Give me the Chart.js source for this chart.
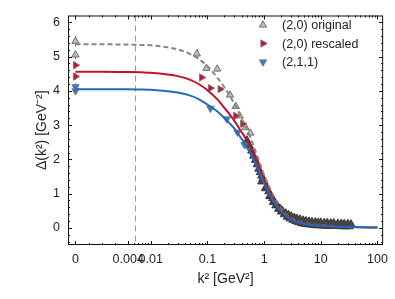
<!DOCTYPE html>
<html>
<head>
<meta charset="utf-8">
<script src="https://cdn.jsdelivr.net/npm/chart.js@4/dist/chart.umd.min.js"></script>
<style>
  html, body { margin: 0; padding: 0; background: #fff; }
  #wrap { width: 395px; height: 299px; }
</style>
</head>
<body>
<div id="wrap"><canvas id="grafik" width="395" height="299"></canvas></div>
<script>
// x axis: linear between 0 and 0.004, log above
const K0 = 0.004, LIN = 0.93;
const xt = k2 => k2 >= K0 ? Math.log10(k2) : Math.log10(K0) - LIN * (1 - k2 / K0);

// tick labels
const xTickVals = [0, 0.004, 0.01, 0.1, 1, 10, 100];
const xTickLabels = ["0", "0.004", "0.01", "0.1", "1", "10", "100"];
const xMinorVals = [0.001, 0.002, 0.003, 0.005, 0.006, 0.007, 0.008, 0.009,
  0.02, 0.03, 0.04, 0.05, 0.06, 0.07, 0.08, 0.09, 0.2, 0.3, 0.4, 0.5, 0.6, 0.7, 0.8, 0.9,
  2, 3, 4, 5, 6, 7, 8, 9, 20, 30, 40, 50, 60, 70, 80, 90];
const yTickVals = [0, 1, 2, 3, 4, 5, 6];
const markerK2 = 0.0053;

// fit curves
const curveK2 = [0, 0.001, 0.002, 0.004, 0.007, 0.01, 0.02, 0.03, 0.05, 0.07, 0.1, 0.15, 0.2, 0.3, 0.4, 0.5, 0.7, 1, 1.5, 2, 3, 5, 10, 20, 50, 100];
const fitBlue = [4.05, 4.05, 4.05, 4.05, 4.04, 4.03, 3.99, 3.95, 3.86, 3.76, 3.6, 3.4, 3.2, 2.9, 2.6, 2.35, 1.9, 1.3, 0.75, 0.48, 0.24, 0.12, 0.06, 0.03, 0.015, 0.01];
const fitRed = [4.56, 4.56, 4.56, 4.55, 4.54, 4.53, 4.48, 4.43, 4.32, 4.2, 4.02, 3.75, 3.5, 3.12, 2.8, 2.55, 2.05, 1.4, 0.8, 0.5, 0.26, 0.13, 0.07, 0.04, 0.02, 0.01];
const fitOrig = [5.36, 5.36, 5.36, 5.35, 5.34, 5.33, 5.27, 5.21, 5.07, 4.93, 4.72, 4.38, 4.1, 3.62, 3.2, 2.88, 2.25, 1.55, 0.9, 0.55, 0.28, 0.15, 0.08, 0.05];

// (2,0) original
const origK2 = [0, 0, 0.065, 0.096, 0.149, 0.25, 0.316, 0.37, 0.47, 0.57];
const origVal = [5.45, 5.05, 5.08, 4.66, 4.64, 3.88, 3.55, 3.27, 2.93, 2.77];
const origErr = [0.15, 0.12, 0.14, 0.08, 0.08, 0.07, 0.06, 0.05, 0.05, 0.05];
// (2,0) rescaled
const rescK2 = [0, 0, 0.079, 0.113, 0.168, 0.316, 0.42];
const rescVal = [4.75, 4.42, 4.39, 4.08, 4.05, 3.27, 3.04];
const rescErr = [0.1, 0.1, 0.08, 0.06, 0.06, 0.05, 0.05];
// (2,1,1)
const s211K2 = [0, 0, 0.113, 0.22, 0.34, 0.45];
const s211Val = [4.12, 4.0, 3.49, 3.18, 2.79, 2.43];
const s211Err = [0.1, 0.1, 0.07, 0.06, 0.05, 0.05];
// dense lattice points at large k2 (upper and lower rows of the band)
const bandK2 = [0.5, 0.55, 0.6, 0.65, 0.7, 0.75, 0.8, 0.85, 0.9, 0.95, 1.0, 1.1, 1.2, 1.3, 1.4, 1.5, 1.7, 1.9, 2.1, 2.4, 2.7, 3, 3.4, 3.8, 4.3, 4.9, 5.5, 6.2, 7, 8, 9, 10, 11.5, 13, 15, 17, 20, 23, 26, 30, 34];
const bandVal = [2.55, 2.4, 2.25, 2.1, 1.98, 1.85, 1.72, 1.62, 1.52, 1.44, 1.36, 1.2, 1.06, 0.95, 0.86, 0.78, 0.66, 0.57, 0.5, 0.43, 0.38, 0.34, 0.3, 0.27, 0.25, 0.22, 0.2, 0.19, 0.18, 0.17, 0.16, 0.16, 0.15, 0.15, 0.14, 0.14, 0.13, 0.13, 0.12, 0.12, 0.11];
const bandLowK2 = [0.9, 1.05, 1.25, 1.45, 1.6, 1.8, 2, 2.25, 2.55, 2.85, 3.2, 3.6, 4, 4.6, 5.2, 5.8, 6.6, 7.5, 8.5, 9.5, 11, 12, 14, 16, 18, 21, 24, 28, 32];
const bandLowVal = [1.35, 1.15, 0.92, 0.75, 0.65, 0.55, 0.47, 0.39, 0.32, 0.27, 0.23, 0.19, 0.16, 0.13, 0.11, 0.1, 0.09, 0.08, 0.07, 0.07, 0.06, 0.06, 0.05, 0.05, 0.05, 0.05, 0.04, 0.04, 0.04];

const pts = (ks, vs) => ks.map((k, i) => ({ x: xt(k), y: vs[i] }));
const FONT = "'Liberation Sans', Arial, sans-serif";

const frameTicks = {
  id: "frameTicks",
  beforeDatasetsDraw(chart) {
    const { ctx, chartArea: a, scales: { x } } = chart;
    const px = Math.round(x.getPixelForValue(xt(markerK2))) + 0.5;
    ctx.save();
    ctx.strokeStyle = "#9a9a9a";
    ctx.lineWidth = 1;
    ctx.setLineDash([6, 4]);
    ctx.beginPath();
    ctx.moveTo(px, a.top);
    ctx.lineTo(px, a.bottom);
    ctx.stroke();
    ctx.restore();
  },
  afterDraw(chart) {
    const { ctx, chartArea: a, scales: { x, y } } = chart;
    ctx.save();
    ctx.strokeStyle = "#111";
    ctx.lineWidth = 1;
    ctx.strokeRect(a.left + 0.5, a.top + 0.5, a.right - a.left - 1, a.bottom - a.top - 1);
    const tick = (p, len, vertical) => {
      ctx.beginPath();
      if (vertical) {
        ctx.moveTo(p, a.bottom); ctx.lineTo(p, a.bottom - len);
        ctx.moveTo(p, a.top); ctx.lineTo(p, a.top + len);
      } else {
        ctx.moveTo(a.left, p); ctx.lineTo(a.left + len, p);
        ctx.moveTo(a.right, p); ctx.lineTo(a.right - len, p);
      }
      ctx.stroke();
    };
    xTickVals.forEach(v => tick(Math.round(x.getPixelForValue(xt(v))) + 0.5, 4, true));
    xMinorVals.forEach(v => tick(Math.round(x.getPixelForValue(xt(v))) + 0.5, 2, true));
    for (let v = -0.4; v < 6.2; v += 0.2) {
      const major = Math.abs(v - Math.round(v)) < 0.01;
      tick(Math.round(y.getPixelForValue(v)) + 0.5, major ? 4 : 2, false);
    }
    ctx.restore();
  }
};

const errorBars = {
  id: "errorBars",
  beforeDatasetsDraw(chart) {
    const { ctx, scales: { x, y } } = chart;
    ctx.save();
    ctx.strokeStyle = "#6a6a6a";
    ctx.lineWidth = 1;
    chart.data.datasets.forEach(ds => {
      if (!ds.errors) return;
      ds.data.forEach((p, i) => {
        const px = Math.round(x.getPixelForValue(p.x)) + 0.5;
        ctx.beginPath();
        ctx.moveTo(px, y.getPixelForValue(p.y - ds.errors[i]));
        ctx.lineTo(px, y.getPixelForValue(p.y + ds.errors[i]));
        ctx.stroke();
      });
    });
    ctx.restore();
  }
};

const insideLegend = {
  id: "insideLegend",
  afterDraw(chart) {
    const { ctx } = chart;
    const items = chart.data.datasets.filter(ds => ds.inLegend);
    ctx.save();
    ctx.font = "12.5px " + FONT;
    ctx.textBaseline = "middle";
    items.forEach((ds, i) => {
      const yy = 25 + i * 18.5;
      ctx.fillStyle = ds.backgroundColor;
      ctx.strokeStyle = ds.borderColor;
      ctx.lineWidth = 1;
      Chart.helpers.drawPoint(ctx, { pointStyle: "triangle", rotation: ds.rotation || 0, radius: 4.2, borderWidth: 1 }, 263, yy);
      ctx.fillStyle = "#222";
      ctx.fillText(ds.label, 282, yy + 1);
    });
    ctx.restore();
  }
};

const ctx = document.getElementById("grafik").getContext("2d");
new Chart(ctx, {
  type: "scatter",
  data: {
    datasets: [
      { label: "fit 2,1,1", data: pts(curveK2, fitBlue), showLine: true, pointRadius: 0, borderColor: "#1f6cc0", borderWidth: 2, cubicInterpolationMode: "monotone", order: 1 },
      { label: "fit rescaled", data: pts(curveK2, fitRed), showLine: true, pointRadius: 0, borderColor: "#c4102c", borderWidth: 2, cubicInterpolationMode: "monotone", order: 2 },
      { label: "fit original", data: pts(curveK2.slice(0, fitOrig.length), fitOrig), showLine: true, pointRadius: 0, borderColor: "#8c857a", borderWidth: 2, borderDash: [5, 3], cubicInterpolationMode: "monotone", order: 3 },
      { label: "(2,0) original", inLegend: true, data: pts(origK2, origVal), errors: origErr, pointStyle: "triangle", pointRadius: 4.2, backgroundColor: "#bdbdbd", borderColor: "#6e6e6e", borderWidth: 1, order: 6 },
      { label: "(2,0) rescaled", inLegend: true, rotation: 90, data: pts(rescK2, rescVal), errors: rescErr, pointStyle: "triangle", pointRadius: 4.2, backgroundColor: "#c8102e", borderColor: "#7a7a7a", borderWidth: 1, order: 5 },
      { label: "(2,1,1)", inLegend: true, rotation: 180, data: pts(s211K2, s211Val), errors: s211Err, pointStyle: "triangle", pointRadius: 4.2, backgroundColor: "#2f7fd0", borderColor: "#7a7a7a", borderWidth: 1, order: 4 },
      { label: "lattice", data: pts(bandK2, bandVal), pointStyle: "triangle", pointRadius: 4.5, backgroundColor: "#484848", borderColor: "#3a3a3a", borderWidth: 1, order: 7 },
      { label: "lattice low", data: pts(bandLowK2, bandLowVal), pointStyle: "triangle", pointRadius: 4.5, backgroundColor: "#484848", borderColor: "#3a3a3a", borderWidth: 1, order: 8 }
    ]
  },
  options: {
    responsive: false,
    animation: false,
    layout: { padding: { top: 5, right: 6, left: 0, bottom: 0 } },
    plugins: { legend: { display: false }, tooltip: { enabled: false } },
    scales: {
      x: {
        type: "linear",
        min: -3.46,
        max: 2.1,
        grid: { display: false, drawTicks: false },
        border: { display: false },
        afterBuildTicks: s => { s.ticks = xTickVals.map(v => ({ value: xt(v) })); },
        afterFit: s => { s.height = 54; },
        ticks: {
          autoSkip: false,
          maxRotation: 0,
          padding: 7,
          color: "#222",
          font: { family: FONT, size: 12.5 },
          callback: (v, i) => xTickLabels[i]
        },
        title: { display: true, text: "k² [GeV²]", color: "#222", font: { family: FONT, size: 14 }, padding: { top: 0, bottom: 11 } }
      },
      y: {
        min: -0.5,
        max: 6.2,
        grid: { display: false, drawTicks: false },
        border: { display: false },
        afterBuildTicks: s => { s.ticks = yTickVals.map(v => ({ value: v })); },
        afterFit: s => { s.width = 68; },
        ticks: { padding: 8, color: "#222", font: { family: FONT, size: 12.5 } },
        title: { display: true, text: "Δ(k²) [GeV⁻²]", color: "#222", font: { family: FONT, size: 14 }, padding: { top: 34, bottom: 0 } }
      }
    }
  },
  plugins: [frameTicks, errorBars, insideLegend]
});
</script>
</body>
</html>
